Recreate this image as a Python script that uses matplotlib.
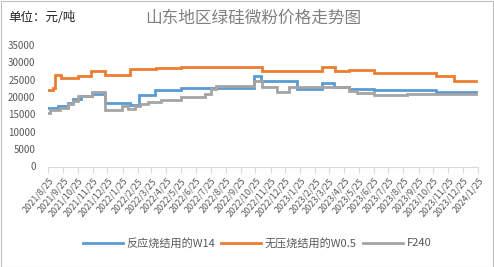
import matplotlib
matplotlib.use("Agg")
import matplotlib.pyplot as plt
import pandas as pd
from matplotlib.patches import Rectangle

plt.rcParams['font.family'] = ['Noto Sans CJK SC', 'DejaVu Sans']

# ---- data (price change points, yuan/ton) ----
end_date = "2024-01-21"

w14_dates = ["2021-08-25", "2021-09-14", "2021-10-05", "2021-10-15", "2021-11-01",
             "2021-11-23", "2021-12-20", "2022-02-09", "2022-02-27", "2022-04-01",
             "2022-05-26", "2022-10-23", "2022-11-06", "2023-01-19", "2023-03-11",
             "2023-04-05", "2023-05-06", "2023-06-26", "2023-10-31"]
w14_values = [16800, 17500, 18300, 19500, 20200,
              21000, 18200, 17600, 20600, 22100,
              22600, 26000, 24500, 22300, 24000,
              23000, 22300, 21900, 21500]

w05_dates = ["2021-08-25", "2021-09-04", "2021-09-08", "2021-09-21", "2021-10-25",
             "2021-11-21", "2021-12-20", "2022-02-09", "2022-04-03", "2022-05-26",
             "2022-11-08", "2023-03-11", "2023-04-07", "2023-05-06", "2023-06-26",
             "2023-10-31", "2023-12-07"]
w05_values = [22000, 22500, 26500, 25500, 26000,
              27500, 26500, 28000, 28300, 28800,
              27500, 28800, 27500, 27900, 27000,
              26000, 24500]

f240_dates = ["2021-08-25", "2021-08-29", "2021-09-19", "2021-10-05", "2021-10-15",
              "2021-10-25", "2021-11-23", "2021-12-20", "2022-01-24", "2022-02-05",
              "2022-02-19", "2022-03-01", "2022-03-18", "2022-04-15", "2022-05-26",
              "2022-07-13", "2022-07-25", "2022-08-06", "2022-10-23", "2022-11-08",
              "2022-12-09", "2023-01-01", "2023-05-06", "2023-05-22", "2023-06-26",
              "2023-09-01"]
f240_values = [15500, 16300, 16800, 17900, 18800,
               20400, 21400, 16200, 17300, 16700,
               17500, 17900, 18500, 19300, 20000,
               20800, 22300, 23300, 24500, 22800,
               21400, 22800, 21700, 21200, 20500,
               21000]

series_names = ["反应烧结用的W14", "无压烧结用的W0.5", "F240"]
series_colors = ["#5B9BD5", "#ED7D31", "#A5A5A5"]

tick_dates = pd.date_range("2021-08-01", "2024-01-01", freq="MS") + pd.Timedelta(days=24)
tick_labels = [f"{d.year}/{d.month}/{d.day}" for d in tick_dates]

yticks = [0, 5000, 10000, 15000, 20000, 25000, 30000, 35000]

# ---- figure ----
W, H = 494, 267
fig = plt.figure(figsize=(W / 100, H / 100), dpi=100)
ax = fig.add_axes([48 / W, 1 - 166.5 / H, (478 - 48) / W, (166.5 - 45) / H])

for dates, vals, name, col in [(w14_dates, w14_values, series_names[0], series_colors[0]),
                               (w05_dates, w05_values, series_names[1], series_colors[1]),
                               (f240_dates, f240_values, series_names[2], series_colors[2])]:
    x = pd.to_datetime(dates + [end_date])
    y = vals + [vals[-1]]
    ax.plot(x, y, drawstyle="steps-post", color=col, lw=2.0, label=name,
            solid_joinstyle="miter")

ax.set_xlim(pd.Timestamp("2021-08-25"), pd.Timestamp("2024-01-25"))
ax.set_ylim(0, 35000)
ax.set_yticks(yticks)
ax.set_yticklabels([str(v) for v in yticks], fontsize=7, color="#595959")
ax.tick_params(axis="y", length=0, pad=9)

ax.set_xticks(tick_dates)
ax.set_xticklabels(tick_labels, rotation=50, ha="right", rotation_mode="anchor",
                   fontsize=6.5, color="#595959")
ax.tick_params(axis="x", length=4, color="#D9D9D9", pad=3, direction="out")

for s in ["top", "right", "left"]:
    ax.spines[s].set_visible(False)
ax.spines["bottom"].set_color("#D9D9D9")
ax.spines["bottom"].set_linewidth(0.8)

fig.text(8 / W, 1 - 18 / H, "单位：元/吨", fontsize=9, color="#222222",
         ha="left", va="center")
fig.text(253 / W, 1 - 18 / H, "山东地区绿硅微粉价格走势图", fontsize=12, color="#808080",
         ha="center", va="center")

leg = fig.legend(loc="center", bbox_to_anchor=(257 / W, 1 - 243 / H), ncol=3,
                 frameon=False, fontsize=8, handlelength=3.6, columnspacing=0.6,
                 handletextpad=0.3)
for t in leg.get_texts():
    t.set_color("#595959")

fig.patches.append(Rectangle((0.5 / W, 0.5 / H), (W - 1.5) / W, (H - 1.5) / H,
                             transform=fig.transFigure, fill=False,
                             edgecolor="#BFBFBF", lw=0.8))

fig.savefig("out.png", dpi=100)
